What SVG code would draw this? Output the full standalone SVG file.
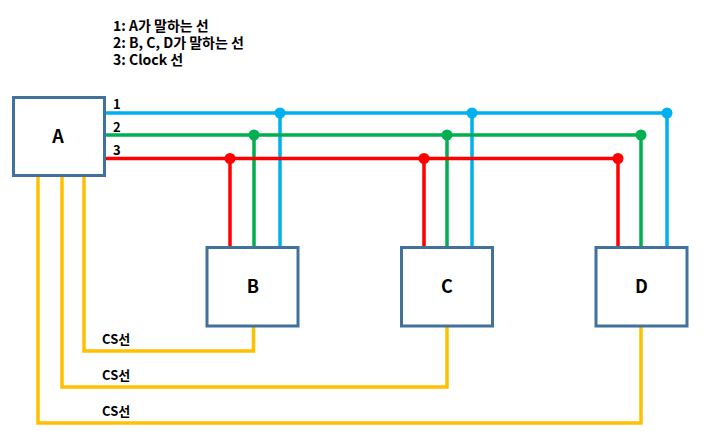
<svg xmlns="http://www.w3.org/2000/svg" width="704" height="446" viewBox="0 0 704 446">
<style>
.box{fill:#fff;stroke:#41719C;stroke-width:3}
.lbl{font-family:"Noto Sans CJK KR","Noto Sans",sans-serif;font-weight:bold;font-size:18px;fill:#000;text-anchor:middle}
.t{font-family:"Noto Sans CJK KR","Noto Sans",sans-serif;font-weight:bold;font-size:13px;fill:#000}
.h{font-family:"Noto Sans CJK KR","Noto Sans",sans-serif;font-weight:bold;font-size:14px;fill:#000}
.w{fill:none;stroke-width:3.5;stroke-linejoin:miter}
.b{stroke:#00B0F0}.g{stroke:#00B050}.r{stroke:#FF0000}.y{stroke:#FFC000}
.db{fill:#00B0F0}.dg{fill:#00B050}.dr{fill:#FF0000}
</style>
<g id="legend">
<text class="h" x="113" y="31"><tspan x="113" y="31">1: A가 말하는 선</tspan><tspan x="113" y="48">2: B, C, D가 말하는 선</tspan><tspan x="113" y="65">3: Clock 선</tspan></text>
</g>
<g id="connectors">
<path class="w b" d="M106 113H667M280 113V247M472 113V247M667 113V247"/>
<path class="w g" d="M106 135H641M254 135V247M447 135V247M641 135V247"/>
<path class="w r" d="M106 158.5H618M230 158.5V247M424 158.5V247M618 158.5V247"/>
<path class="w y" d="M84 177V351H253.5V327"/>
<path class="w y" d="M62 177V387H447V327"/>
<path class="w y" d="M38 177V423H641V327"/>
<circle class="db" cx="280" cy="113" r="5.5"/><circle class="db" cx="472" cy="113" r="5.5"/><circle class="db" cx="667" cy="113" r="5.5"/>
<circle class="dg" cx="254" cy="135" r="5.5"/><circle class="dg" cx="447" cy="135" r="5.5"/><circle class="dg" cx="641" cy="135" r="5.5"/>
<circle class="dr" cx="230" cy="158.5" r="5.5"/><circle class="dr" cx="424" cy="158.5" r="5.5"/><circle class="dr" cx="618" cy="158.5" r="5.5"/>
<text class="t" x="113" y="109">1</text>
<text class="t" x="113" y="132">2</text>
<text class="t" x="113" y="155">3</text>
<text class="t" x="102" y="344">CS선</text>
<text class="t" x="102" y="380">CS선</text>
<text class="t" x="102" y="416">CS선</text>
</g>
<g id="A"><rect class="box" x="13.5" y="97.5" width="91" height="78"/><text class="lbl" x="58" y="143">A</text></g>
<g id="B"><rect class="box" x="207" y="247.5" width="91" height="78.5"/><text class="lbl" x="253" y="293">B</text></g>
<g id="C"><rect class="box" x="401.5" y="247.5" width="91" height="78.5"/><text class="lbl" x="447" y="293">C</text></g>
<g id="D"><rect class="box" x="596" y="247.5" width="91" height="78.5"/><text class="lbl" x="641.5" y="293">D</text></g>
</svg>
